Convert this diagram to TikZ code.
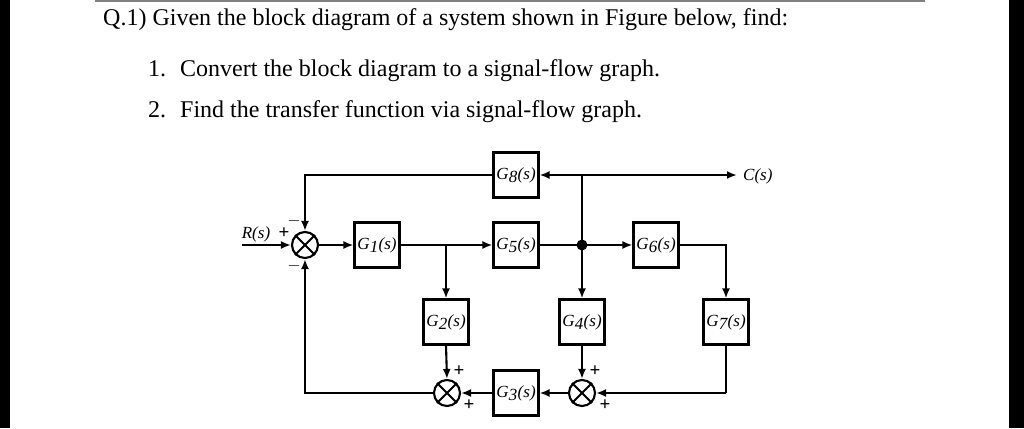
\documentclass[tikz,border=0pt]{standalone}
\usepackage{fontspec}
\setmainfont{Liberation Serif}
\usetikzlibrary{arrows.meta}
\newcommand\gl[1]{\textit{G\kern0.3pt\raisebox{-0.45ex}{#1}\kern0.3pt(s)}}
\begin{document}
\begin{tikzpicture}[x=1pt,y=-1pt,
  sig/.style={line width=2.1pt,-{Latex[length=10pt,width=8pt]}},
  wire/.style={line width=2.1pt},
  blk/.style={draw,line width=2.1pt,minimum width=45pt,minimum height=45pt,inner sep=0pt,font=\fontsize{17}{17}\selectfont},
  sumj/.style={draw,line width=2.1pt,circle,minimum size=26pt,inner sep=0pt},
  lbl/.style={font=\fontsize{17}{17}\selectfont\itshape,inner sep=0pt},
  sgn/.style={font=\fontsize{19}{19}\selectfont\bfseries,inner sep=0pt},
  txt/.style={anchor=base west,inner sep=0pt,font=\fontsize{24}{24}\selectfont}]
\useasboundingbox (0,0) rectangle (1024,428);
\fill[white] (0,0) rectangle (1024,428);
\fill[black] (0,0) rectangle (10,428);
\fill[black] (1009,0) rectangle (1024,428);
\draw[gray,line width=2pt] (95,1.5) -- (925,1.5);
% texts
\node[txt] (q) at (103,26) {Q.1) Given the block diagram of a system shown in Figure below, find:};
\node[txt] (n1) at (148,77) {1.};
\node[txt] (t1) at (180,77) {Convert the block diagram to a signal-flow graph.};
\node[txt] (n2) at (148,117) {2.};
\node[txt] (t2) at (180,117) {Find the transfer function via signal-flow graph.};
% junctions
\node[sumj] (s1) at (305,245) {};
\node[sumj] (s2) at (447,393) {};
\node[sumj] (s3) at (582,393) {};
\foreach \s in {s1,s2,s3}{
  \draw[line width=1.9pt] (\s.north west) -- (\s.south east) (\s.north east) -- (\s.south west);}
% blocks
\node[blk] (g1) at (377,245) {\gl{1}};
\node[blk] (g5) at (516,245) {\gl{5}};
\node[blk] (g6) at (656,245) {\gl{6}};
\node[blk] (g8) at (516,175) {\gl{8}};
\node[blk] (g2) at (446,322) {\gl{2}};
\node[blk] (g4) at (582,322) {\gl{4}};
\node[blk] (g7) at (726,322) {\gl{7}};
\node[blk] (g3) at (516,393) {\gl{3}};
% coordinates
\coordinate (rin) at (242,245);
\coordinate (b1) at (446,245);
\coordinate (jt) at (582,175);
\coordinate (cout) at (737,175);
\coordinate (tl) at (305,175);
\coordinate (rc) at (726,245);
\coordinate (br) at (726,393);
\coordinate (bl) at (305,393);
\fill (582,245) circle (5.5pt) coordinate (j);
% connectors
\draw[sig] (rin) -- (s1.west);
\draw[sig] (s1.east) -- (g1.west);
\draw[sig] (g1.east) -- (g5.west);
\draw[wire] (g5.east) -- (j);
\draw[sig] (j) -- (g6.west);
\draw[sig] (g6.east) -- (rc) -- (g7.north);
\draw[wire] (g7.south) -- (br);
\draw[sig] (br) -- (s3.east);
\draw[sig] (j) -- (g4.north);
\draw[sig] (g4.south) -- (s3.north);
\draw[sig] (s3.west) -- (g3.east);
\draw[sig] (g3.west) -- (s2.east);
\draw[sig] (b1) -- (g2.north);
\draw[sig] (g2.south) -- (s2.north);
\draw[sig] (s2.west) -- (bl) -- (s1.south);
\draw[wire] (j) -- (jt);
\draw[sig] (jt) -- (cout);
\draw[sig] (jt) -- (g8.east);
\draw[sig] (g8.west) -- (tl) -- (s1.north);
% labels
\node[lbl] (rl) at (256,234) {R(s)};
\node[lbl,anchor=west] (cl) at (743,176) {C(s)};
\node[sgn] (p1) at (284,233) {+};
\node[sgn] (m1) at (294,221) {$-$};
\node[sgn] (m2) at (294,266) {$-$};
\node[sgn] (p2) at (459,371) {+};
\node[sgn] (p3) at (469,405) {+};
\node[sgn] (p4) at (595,371) {+};
\node[sgn] (p5) at (605,405) {+};
\end{tikzpicture}
\end{document}
